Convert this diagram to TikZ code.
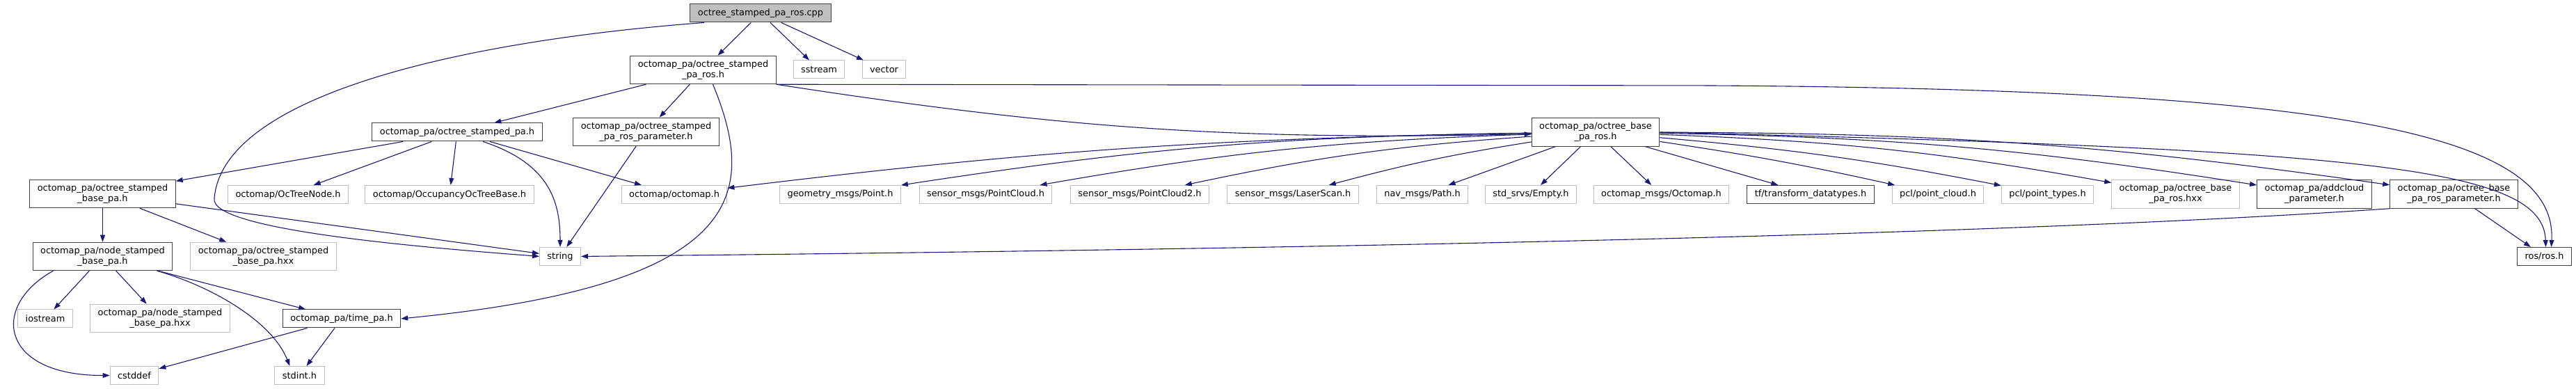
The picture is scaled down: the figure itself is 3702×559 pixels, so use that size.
\documentclass[tikz,border=0pt]{standalone}
\usepackage{fontspec}
\setmainfont{DejaVu Sans}
\usepackage{tikz}
\usetikzlibrary{arrows.meta, positioning}

\begin{document}
\begin{tikzpicture}[
    x=0.1pt, y=-0.1pt,
    file/.style={rectangle, draw=black!75, fill=white, line width=0.1pt, inner xsep=1.1pt, inner ysep=0.65pt, minimum height=2.6pt, align=center, font=\fontsize{1.29}{1.47}\selectfont},
    ext/.style={file, draw=black!25},
    top/.style={file, fill=black!25},
    edge/.style={-{Triangle[length=1pt, width=0.7pt]}, draw={rgb,255:red,25;green,25;blue,112}, line width=0.11pt}
]
\useasboundingbox (0,0) rectangle (3702,559);

% Root
\node[top] (root) at (1093,19) {octree\_stamped\_pa\_ros.cpp};

% Row 1
\node[file] (sros) at (1010.5,100.5) {octomap\_pa/octree\_stamped\\\_pa\_ros.h};
\node[ext] (sstream) at (1177,100) {sstream};
\node[ext] (vector) at (1270.5,100) {vector};

% Row 2
\node[file] (stpa) at (657,190) {octomap\_pa/octree\_stamped\_pa.h};
\node[file] (srparam) at (928.5,189.5) {octomap\_pa/octree\_stamped\\\_pa\_ros\_parameter.h};
\node[file] (bros) at (2293,190) {octomap\_pa/octree\_base\\\_pa\_ros.h};

% Row 3
\node[file] (sbase) at (147.5,278.5) {octomap\_pa/octree\_stamped\\\_base\_pa.h};
\node[ext] (octreenode) at (414,279.5) {octomap/OcTreeNode.h};
\node[ext] (occupancy) at (646,279.5) {octomap/OccupancyOcTreeBase.h};
\node[ext] (octomap) at (969,279.5) {octomap/octomap.h};
\node[ext] (point) at (1207.5,279.5) {geometry\_msgs/Point.h};
\node[ext] (pcloud) at (1416.5,279.5) {sensor\_msgs/PointCloud.h};
\node[ext] (pcloud2) at (1638,279.5) {sensor\_msgs/PointCloud2.h};
\node[ext] (laser) at (1858,279.5) {sensor\_msgs/LaserScan.h};
\node[ext] (path) at (2044,279.5) {nav\_msgs/Path.h};
\node[ext] (empty) at (2200,279.5) {std\_srvs/Empty.h};
\node[ext] (octomapmsg) at (2387.5,279.5) {octomap\_msgs/Octomap.h};
\node[file] (tfdt) at (2602,279.5) {tf/transform\_datatypes.h};
\node[ext] (pclcloud) at (2785,279.5) {pcl/point\_cloud.h};
\node[ext] (pcltypes) at (2942.5,279.5) {pcl/point\_types.h};
\node[ext] (bhxx) at (3126.5,279) {octomap\_pa/octree\_base\\\_pa\_ros.hxx};
\node[file] (addcloud) at (3326,279) {octomap\_pa/addcloud\\\_parameter.h};
\node[file] (brparam) at (3526.5,279) {octomap\_pa/octree\_base\\\_pa\_ros\_parameter.h};

% Row 4
\node[file] (nsbase) at (147.5,368.5) {octomap\_pa/node\_stamped\\\_base\_pa.h};
\node[ext] (sbhxx) at (378.5,368.5) {octomap\_pa/octree\_stamped\\\_base\_pa.hxx};
\node[ext] (string) at (805,368.5) {string};
\node[file] (rosh) at (3656.5,368.5) {ros/ros.h};

% Row 5
\node[ext] (iostream) at (65,458) {iostream};
\node[ext] (nshxx) at (230,457.5) {octomap\_pa/node\_stamped\\\_base\_pa.hxx};
\node[file] (timepa) at (491,458) {octomap\_pa/time\_pa.h};

% Row 6
\node[ext] (cstddef) at (193,539.5) {cstddef};
\node[ext] (stdint) at (430.5,539.5) {stdint.h};

% Arrows from the root
\draw[edge] (root) -- (sros);
\draw[edge] (root) -- (sstream);
\draw[edge] (root) -- (vector);
\draw[edge] ([xshift=-8.1pt]root.south) .. controls (650,60) and (320,140) .. (308,285)
    .. controls (300,330) and (600,355) .. (string.west);

% Arrows from octree_stamped_pa_ros.h
\draw[edge] (sros) -- (stpa);
\draw[edge] (sros) -- (srparam);
\draw[edge] (sros.south east) to[bend right=5] (bros);
\draw[edge] ([xshift=1.4pt]sros.south) .. controls (1090,280) and (1070,410) .. (timepa.east);
\draw[edge] (sros.south east) -- (2450,123) .. controls (3350,128) and (3675,190) .. ([xshift=1pt]rosh.north);

% Arrows from octree_stamped_pa.h
\draw[edge] (stpa) -- (sbase);
\draw[edge] (stpa) -- (octreenode);
\draw[edge] (stpa) -- (occupancy);
\draw[edge] (stpa) -- (octomap);
\draw[edge] ([xshift=3.7pt]stpa.south) .. controls (790,235) and (805,290) .. (string.north);
\draw[edge] (srparam) -- (string);

% Arrows from octree_stamped_base_pa.h
\draw[edge] (sbase) -- (nsbase);
\draw[edge] (sbase) -- (sbhxx);
\draw[edge] (sbase) -- (string);

% Arrows from node_stamped_base_pa.h
\draw[edge] (nsbase) -- (iostream);
\draw[edge] (nsbase) -- (nshxx);
\draw[edge] (nsbase) -- (timepa);
\draw[edge] ([xshift=7.8pt]nsbase.south) .. controls (300,410) and (390,460) .. ([xshift=-1.4pt]stdint.north);
\draw[edge] ([xshift=-7.1pt]nsbase.south) .. controls (-15,440) and (0,540) .. (cstddef.west);
\draw[edge] (timepa) -- (cstddef);
\draw[edge] (timepa) -- (stdint);

% Arrows from octree_base_pa_ros.h
\draw[edge] (bros) to[bend right=3] (octomap);
\draw[edge] (bros) to[bend right=4] (point);
\draw[edge] (bros) to[bend right=4] (pcloud);
\draw[edge] (bros) to[bend right=4] (pcloud2);
\draw[edge] (bros) to[bend right=3] (laser);
\draw[edge] (bros) -- (path);
\draw[edge] (bros) -- (empty);
\draw[edge] (bros) -- (octomapmsg);
\draw[edge] (bros) -- (tfdt);
\draw[edge] (bros) to[bend left=2] (pclcloud);
\draw[edge] (bros) to[bend left=3] (pcltypes);
\draw[edge] (bros) to[bend left=4] (bhxx);
\draw[edge] (bros) to[bend left=4] (addcloud);
\draw[edge] (bros) to[bend left=4] (brparam);
\draw[edge] (bros.east) .. controls (3400,215) and (3655,240) .. ([xshift=0.2pt]rosh.north);

% Arrows from octree_base_pa_ros_parameter.h
\draw[edge] (brparam) -- (rosh);
\draw[edge] (brparam.south west) .. controls (3000,330) and (2200,355) .. (string.east);

\end{tikzpicture}
\end{document}
